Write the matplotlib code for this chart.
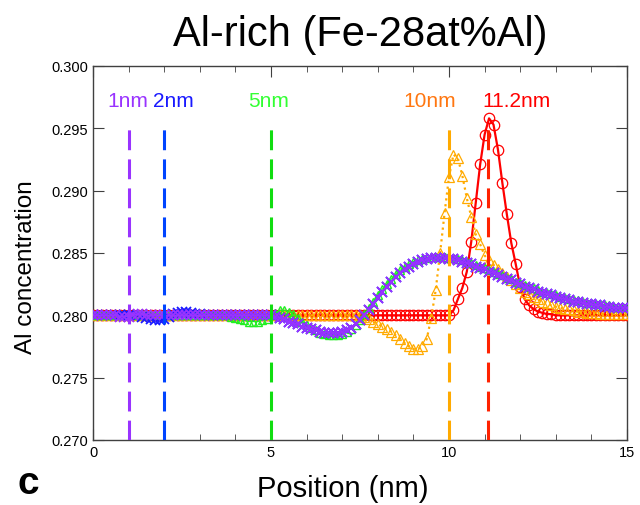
import numpy as np
import matplotlib
matplotlib.use("Agg")
import matplotlib.pyplot as plt
from matplotlib.ticker import MultipleLocator, FormatStrFormatter

plt.rcParams["font.family"] = ["Liberation Sans", "DejaVu Sans"]

# position grid, 0.125 nm steps
pos = np.arange(121) * 0.125

# Al concentration profiles, one row per nm
al_1nm = [
    0.2800, 0.2800, 0.2800, 0.2800, 0.2800, 0.2800, 0.2799, 0.2799,
    0.2799, 0.2800, 0.2801, 0.2801, 0.2800, 0.2800, 0.2800, 0.2800,
    0.2800, 0.2800, 0.2800, 0.2800, 0.2800, 0.2800, 0.2800, 0.2800,
    0.2800, 0.2800, 0.2800, 0.2800, 0.2800, 0.2800, 0.2800, 0.2800,
    0.2800, 0.2800, 0.2800, 0.2800, 0.2800, 0.2800, 0.2800, 0.2800,
    0.2800, 0.2799, 0.2798, 0.2797, 0.2795, 0.2794, 0.2793, 0.2791,
    0.2790, 0.2789, 0.2788, 0.2787, 0.2786, 0.2786, 0.2786, 0.2786,
    0.2787, 0.2788, 0.2790, 0.2793, 0.2796, 0.2800, 0.2804, 0.2809,
    0.2814, 0.2819, 0.2823, 0.2827, 0.2831, 0.2834, 0.2837, 0.2839,
    0.2841, 0.2843, 0.2844, 0.2845, 0.2846, 0.2846, 0.2846, 0.2846,
    0.2845, 0.2845, 0.2844, 0.2843, 0.2842, 0.2841, 0.2839, 0.2838,
    0.2837, 0.2835, 0.2834, 0.2832, 0.2831, 0.2829, 0.2828, 0.2826,
    0.2825, 0.2823, 0.2822, 0.2821, 0.2819, 0.2818, 0.2817, 0.2816,
    0.2815, 0.2814, 0.2813, 0.2812, 0.2811, 0.2811, 0.2810, 0.2809,
    0.2809, 0.2808, 0.2808, 0.2807, 0.2807, 0.2806, 0.2806, 0.2806,
    0.2806,
]
al_2nm = [
    0.2800, 0.2800, 0.2800, 0.2800, 0.2800, 0.2800, 0.2800, 0.2800,
    0.2800, 0.2800, 0.2800, 0.2799, 0.2798, 0.2797, 0.2796, 0.2796,
    0.2797, 0.2799, 0.2801, 0.2802, 0.2803, 0.2803, 0.2802, 0.2801,
    0.2801, 0.2800, 0.2800, 0.2800, 0.2800, 0.2800, 0.2800, 0.2800,
    0.2800, 0.2800, 0.2800, 0.2800, 0.2800, 0.2800, 0.2800, 0.2800,
    0.2800, 0.2799, 0.2798, 0.2797, 0.2795, 0.2794, 0.2793, 0.2791,
    0.2790, 0.2789, 0.2788, 0.2787, 0.2786, 0.2786, 0.2786, 0.2786,
    0.2787, 0.2788, 0.2790, 0.2793, 0.2796, 0.2800, 0.2804, 0.2809,
    0.2814, 0.2819, 0.2823, 0.2827, 0.2831, 0.2834, 0.2837, 0.2839,
    0.2841, 0.2843, 0.2844, 0.2845, 0.2846, 0.2846, 0.2846, 0.2846,
    0.2845, 0.2845, 0.2844, 0.2843, 0.2842, 0.2841, 0.2839, 0.2838,
    0.2837, 0.2835, 0.2834, 0.2832, 0.2831, 0.2829, 0.2828, 0.2826,
    0.2825, 0.2823, 0.2822, 0.2821, 0.2819, 0.2818, 0.2817, 0.2816,
    0.2815, 0.2814, 0.2813, 0.2812, 0.2811, 0.2811, 0.2810, 0.2809,
    0.2809, 0.2808, 0.2808, 0.2807, 0.2807, 0.2806, 0.2806, 0.2806,
    0.2806,
]
al_5nm = [
    0.2800, 0.2800, 0.2800, 0.2800, 0.2800, 0.2800, 0.2800, 0.2800,
    0.2800, 0.2800, 0.2800, 0.2800, 0.2800, 0.2800, 0.2800, 0.2800,
    0.2800, 0.2800, 0.2800, 0.2800, 0.2800, 0.2800, 0.2800, 0.2800,
    0.2800, 0.2800, 0.2800, 0.2800, 0.2800, 0.2800, 0.2800, 0.2799,
    0.2798, 0.2797, 0.2796, 0.2795, 0.2795, 0.2795, 0.2796, 0.2797,
    0.2800, 0.2802, 0.2804, 0.2804, 0.2803, 0.2801, 0.2798, 0.2795,
    0.2792, 0.2790, 0.2788, 0.2786, 0.2785, 0.2784, 0.2784, 0.2784,
    0.2785, 0.2787, 0.2789, 0.2792, 0.2796, 0.2801, 0.2806, 0.2811,
    0.2816, 0.2821, 0.2825, 0.2829, 0.2833, 0.2836, 0.2839, 0.2841,
    0.2843, 0.2844, 0.2845, 0.2846, 0.2847, 0.2847, 0.2847, 0.2847,
    0.2846, 0.2846, 0.2845, 0.2844, 0.2843, 0.2842, 0.2840, 0.2839,
    0.2838, 0.2836, 0.2835, 0.2833, 0.2832, 0.2830, 0.2829, 0.2827,
    0.2826, 0.2824, 0.2823, 0.2822, 0.2820, 0.2819, 0.2818, 0.2817,
    0.2816, 0.2815, 0.2814, 0.2813, 0.2812, 0.2812, 0.2811, 0.2810,
    0.2810, 0.2809, 0.2809, 0.2808, 0.2808, 0.2807, 0.2807, 0.2807,
    0.2807,
]
al_10nm = [
    0.2800, 0.2800, 0.2800, 0.2800, 0.2800, 0.2800, 0.2800, 0.2800,
    0.2800, 0.2800, 0.2800, 0.2800, 0.2800, 0.2800, 0.2800, 0.2800,
    0.2800, 0.2800, 0.2800, 0.2800, 0.2800, 0.2800, 0.2800, 0.2800,
    0.2800, 0.2800, 0.2800, 0.2800, 0.2800, 0.2800, 0.2800, 0.2800,
    0.2800, 0.2800, 0.2800, 0.2800, 0.2800, 0.2800, 0.2800, 0.2800,
    0.2800, 0.2800, 0.2800, 0.2800, 0.2800, 0.2800, 0.2800, 0.2800,
    0.2800, 0.2800, 0.2800, 0.2800, 0.2800, 0.2800, 0.2800, 0.2800,
    0.2800, 0.2800, 0.2800, 0.2800, 0.2800, 0.2799, 0.2797, 0.2795,
    0.2793, 0.2791, 0.2789, 0.2787, 0.2784, 0.2781, 0.2778, 0.2775,
    0.2773, 0.2773, 0.2775, 0.2781, 0.2798, 0.2820, 0.2850, 0.2882,
    0.2911, 0.2929, 0.2926, 0.2912, 0.2894, 0.2879, 0.2865, 0.2857,
    0.2848, 0.2844, 0.2840, 0.2837, 0.2834, 0.2831, 0.2828, 0.2825,
    0.2822, 0.2819, 0.2817, 0.2815, 0.2813, 0.2811, 0.2810, 0.2808,
    0.2807, 0.2806, 0.2805, 0.2805, 0.2804, 0.2803, 0.2803, 0.2802,
    0.2802, 0.2802, 0.2801, 0.2801, 0.2801, 0.2801, 0.2801, 0.2801,
    0.2801,
]
al_11nm = [
    0.2800, 0.2800, 0.2800, 0.2800, 0.2800, 0.2800, 0.2800, 0.2800,
    0.2800, 0.2800, 0.2800, 0.2800, 0.2800, 0.2800, 0.2800, 0.2800,
    0.2800, 0.2800, 0.2800, 0.2800, 0.2800, 0.2800, 0.2800, 0.2800,
    0.2800, 0.2800, 0.2800, 0.2800, 0.2800, 0.2800, 0.2800, 0.2800,
    0.2800, 0.2800, 0.2800, 0.2800, 0.2800, 0.2800, 0.2800, 0.2800,
    0.2800, 0.2800, 0.2800, 0.2800, 0.2800, 0.2800, 0.2800, 0.2800,
    0.2800, 0.2800, 0.2800, 0.2800, 0.2800, 0.2800, 0.2800, 0.2800,
    0.2800, 0.2800, 0.2800, 0.2800, 0.2800, 0.2800, 0.2800, 0.2800,
    0.2800, 0.2800, 0.2800, 0.2800, 0.2800, 0.2800, 0.2800, 0.2800,
    0.2800, 0.2800, 0.2800, 0.2800, 0.2800, 0.2800, 0.2800, 0.2800,
    0.2800, 0.2804, 0.2813, 0.2822, 0.2835, 0.2859, 0.2890, 0.2921,
    0.2945, 0.2958, 0.2953, 0.2933, 0.2906, 0.2881, 0.2858, 0.2841,
    0.2823, 0.2813, 0.2808, 0.2805, 0.2803, 0.2802, 0.2801, 0.2801,
    0.2800, 0.2800, 0.2800, 0.2800, 0.2800, 0.2800, 0.2800, 0.2800,
    0.2800, 0.2800, 0.2800, 0.2800, 0.2800, 0.2800, 0.2800, 0.2800,
    0.2800,
]

# vertical markers: where each profile's interface sits
tag_pos = [1.0, 2.0, 5.0, 10.0, 11.1]
tag_text = ["1nm", "2nm", "5nm", "10nm", "11.2nm"]
tag_top = 0.2955

PURPLE, BLUE, GREEN, ORANGE, RED = "#9933ff", "#1a1aff", "#22ee22", "#ffaa00", "#ff0000"

fig = plt.figure(figsize=(6.4, 5.06), dpi=100)
ax = fig.add_axes([93 / 640, 1 - 441 / 506, 534 / 640, 374 / 506])

ax.plot(pos, al_11nm, "-", color=RED, lw=1.6, marker="o", ms=7.5, mfc="none", mec=RED, mew=0.9, zorder=3)
ax.plot(pos, al_10nm, ":", color=ORANGE, lw=1.6, marker="^", ms=7, mfc="none", mec=ORANGE, mew=0.9, zorder=3)
ax.plot(pos, al_5nm, "-", color=GREEN, lw=0.8, marker="^", ms=5.5, mfc="none", mec=GREEN, mew=1.0, zorder=4)
ax.plot(pos, al_2nm, "-", color=BLUE, lw=1.0, marker="x", ms=6.5, mec=BLUE, mew=1.3, zorder=5)
ax.plot(pos, al_1nm, "-", color=PURPLE, lw=1.0, marker="x", ms=6.5, mec=PURPLE, mew=1.3, zorder=6)

line_cols = [PURPLE, "#0044ff", "#11dd11", ORANGE, "#ff2200"]
text_cols = [PURPLE, BLUE, "#33ff33", "#ff7711", RED]
text_x = [0.97, 2.25, 4.94, 9.47, 11.9]
for p, t, lc, tc, tx in zip(tag_pos, tag_text, line_cols, text_cols, text_x):
    ax.plot([p, p], [0.270, tag_top], color=lc, lw=2.2, dashes=(6.5, 3), zorder=7)
    ax.text(tx, 0.2972, t, color=tc, fontsize=15, ha="center", va="center")

ax.set_xlim(0, 15)
ax.set_ylim(0.270, 0.300)
ax.xaxis.set_major_locator(MultipleLocator(5))
ax.xaxis.set_minor_locator(MultipleLocator(1))
ax.yaxis.set_major_locator(MultipleLocator(0.005))
ax.yaxis.set_major_formatter(FormatStrFormatter("%.3f"))
ax.tick_params(which="both", direction="in", top=True, right=True, labelsize=10.5, color="#404040")
ax.tick_params(axis="x", which="major", length=8)
ax.tick_params(axis="x", which="minor", length=4)
ax.tick_params(axis="y", which="major", length=8)
for s in ax.spines.values():
    s.set_color("#404040")
    s.set_linewidth(1.0)

fig.text(0.5625, 1 - 35 / 506, "Al-rich (Fe-28at%Al)", fontsize=30, ha="center", va="center")
fig.text(0.041, 0.472, "Al concentration", fontsize=17.5, rotation=90, ha="center", va="center")
fig.text(0.535, 1 - 489 / 506, "Position (nm)", fontsize=21, ha="center", va="center")
fig.text(0.045, 1 - 484 / 506, "c", fontsize=28, fontweight="bold", ha="center", va="center")

fig.savefig("out.png", dpi=100)
